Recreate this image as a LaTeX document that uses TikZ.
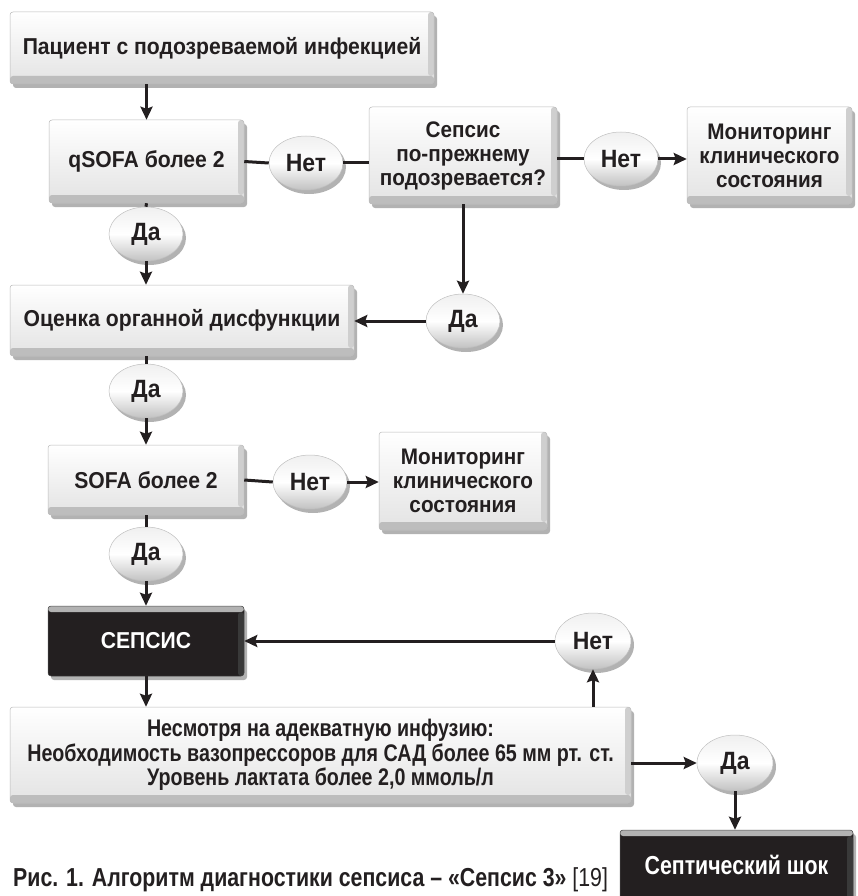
\documentclass[tikz,border=0pt]{standalone}
\usepackage{fontspec}
\setmainfont[FakeStretch=0.92]{Liberation Sans}
\newfontfamily\condfont[FakeStretch=0.82]{Liberation Sans}
\usetikzlibrary{arrows.meta,shadows,shapes.geometric}
\definecolor{ink}{HTML}{231F20}
\tikzset{
  softshadow/.style={general shadow={shadow xshift=3pt, shadow yshift=-4pt, fill=black, opacity=0.3}},
  flowbox/.style={rectangle, rounded corners=3pt, draw=gray!55, line width=0.5pt,
    top color=white, bottom color=gray!22, text=ink, align=center, inner sep=0pt,
    font=\bfseries\fontsize{23}{25}\selectfont, softshadow,
    path picture={
      \fill[gray!52] (path picture bounding box.south west) rectangle
        ([yshift=8pt]path picture bounding box.south east);
      \fill[gray!38] ([xshift=-6pt]path picture bounding box.north east) rectangle
        ([yshift=8pt]path picture bounding box.south east);
    }},
  darkbox/.style={rectangle, rounded corners=3pt, draw=gray!60!black, line width=0.5pt,
    fill=ink, text=white, align=center, inner sep=0pt,
    font=\bfseries\fontsize{23}{25}\selectfont, softshadow,
    path picture={
      \fill[gray!60] (path picture bounding box.north west) rectangle
        ([yshift=-6pt]path picture bounding box.north east);
      \fill[gray!45!black] ([xshift=-6pt,yshift=-6pt]path picture bounding box.north east) rectangle
        (path picture bounding box.south east);
    }},
  pill/.style={ellipse, minimum width=74pt, minimum height=54pt, inner sep=0pt,
    draw=gray!50, line width=0.5pt, top color=gray!12, bottom color=gray!48, middle color=white,
    text=ink, font=\bfseries\fontsize{25}{25}\selectfont, softshadow},
  threeline/.style={font=\bfseries\fontsize{22.5}{24}\selectfont},
  link/.style={draw=ink, line width=3pt},
  arr/.style={link, -{Stealth[length=13pt,width=12pt,inset=2pt]}},
}
\begin{document}
\begin{tikzpicture}[x=1pt,y=-1pt]
\useasboundingbox (0,0) rectangle (857,896);

% boxes
\node[flowbox, minimum width=424pt, minimum height=72pt] (patient) at (222,48)
  {Пациент с подозреваемой инфекцией};
\node[flowbox, minimum width=195pt, minimum height=83pt] (qsofa) at (146.5,161.5)
  {qSOFA более 2};
\node[flowbox, threeline, minimum width=188pt, minimum height=97pt] (suspect) at (463,155.5)
  {Сепсис\\по-прежнему\\подозревается?};
\node[flowbox, threeline, minimum width=165pt, minimum height=97pt] (monA) at (769.5,155.5)
  {Мониторинг\\клинического\\состояния};
\node[flowbox, minimum width=344pt, minimum height=71pt] (organ) at (182,320.5)
  {Оценка органной дисфункции};
\node[flowbox, minimum width=196pt, minimum height=70pt] (sofa) at (146,480)
  {SOFA более 2};
\node[flowbox, threeline, minimum width=168pt, minimum height=98pt] (monB) at (463,481)
  {Мониторинг\\клинического\\состояния};
\node[darkbox, minimum width=196pt, minimum height=70pt] (sepsis) at (146,641)
  {СЕПСИС};
\node[flowbox, minimum width=621pt, minimum height=96pt,
      font=\condfont\bfseries\fontsize{24}{24.5}\selectfont] (shockcrit) at (320.5,755)
  {Несмотря на адекватную инфузию:\\
   Необходимость вазопрессоров для САД более 65 мм рт. ст.\\
   Уровень лактата более 2,0 ммоль/л};
\node[darkbox, minimum width=233pt, minimum height=70pt,
      font=\condfont\bfseries\fontsize{26}{26}\selectfont] (shock) at (736.5,865)
  {Септический шок};

% yes / no marks
\node[pill] (no1) at (306,163) {Нет};
\node[pill] (no2) at (621,159) {Нет};
\node[pill] (yes1) at (146,234) {Да};
\node[pill] (yes2) at (463,321) {Да};
\node[pill] (yes3) at (146,391) {Да};
\node[pill] (no4) at (310,482) {Нет};
\node[pill] (yes5) at (146,554) {Да};
\node[pill, minimum width=76pt, minimum height=56pt] (no3) at (593,641) {Нет};
\node[pill, minimum width=76pt, minimum height=56pt] (yes4) at (735,763) {Да};

% connectors
\draw[arr] (patient.south -| qsofa.north) -- (qsofa.north);
\draw[link] (qsofa.east) -- (no1.west);
\draw[link] (no1.east) -- (suspect.west |- no1.east);
\draw[link] (suspect.east |- no2.west) -- (no2.west);
\draw[arr] (no2.east) -- (monA.west |- no2.east);
\draw[link] (qsofa.south) -- (yes1.north);
\draw[arr] (yes1.south) -- (yes1.south |- organ.north);
\draw[arr] (suspect.south) -- (yes2.north);
\draw[arr] (yes2.west) -- (organ.east |- yes2.west);
\draw[link] (yes3.north |- organ.south) -- (yes3.north);
\draw[arr] (yes3.south) -- (sofa.north);
\draw[link] (sofa.east) -- (no4.west);
\draw[arr] (no4.east) -- (monB.west |- no4.east);
\draw[link] (sofa.south) -- (yes5.north);
\draw[arr] (yes5.south) -- (sepsis.north);
\draw[arr] (sepsis.south) -- (sepsis.south |- shockcrit.north);
\draw[arr] (no3.south |- shockcrit.north) -- (no3.south);
\draw[arr] (no3.west) -- (sepsis.east |- no3.west);
\draw[arr] (shockcrit.east |- yes4.west) -- (yes4.west);
\draw[arr] (yes4.south) -- (yes4.south |- shock.north);

% caption
\node[anchor=base west, inner sep=0pt, text=ink, font=\condfont\fontsize{26}{27}\selectfont] (caption) at (13,886)
  {\textbf{Рис. 1. Алгоритм диагностики сепсиса – «Сепсис 3»} [19]};
\end{tikzpicture}
\end{document}
